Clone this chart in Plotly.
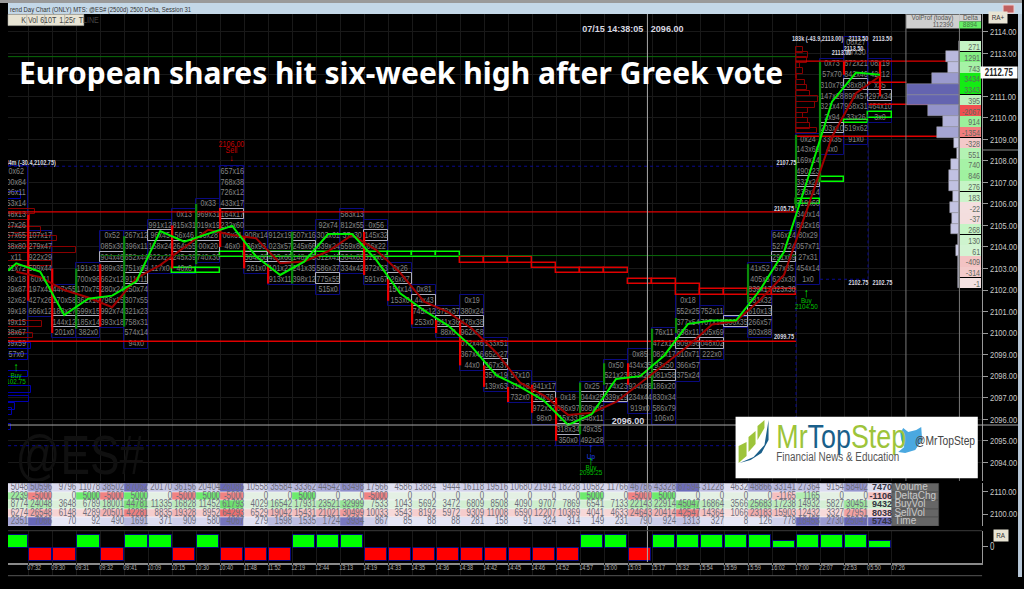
import plotly.graph_objects as go

# ---------- data ----------
time_labels = ["07:32","09:30","09:31","09:32","09:41","10:09","10:15","10:30","10:40","11:48","11:52","12:19","12:44","13:13","14:19","14:33","14:35","14:36","14:38","14:42","14:45","14:46","14:52","14:57","15:00","15:03","15:17","15:32","15:54","15:59","15:59","16:02","17:00","22:07","22:53","05:50","07:26"]
row_names = ["Volume","DeltaChg","BuyVol","SellVol","Time"]
volume = [5048,50596,9796,11078,38502,87062,20170,36156,20404,126086,10558,35584,33362,44542,63498,17566,4586,13884,9444,16118,19516,10680,21914,18238,10582,11766,46786,43328,87594,31228,4632,48866,33141,27364,9154,58402,7470]
delta_chg = [2239,-5000,0,5000,-5000,5000,0,-5000,5000,-5000,0,0,5000,0,0,-5000,0,0,0,0,0,0,0,0,5000,0,-5000,5000,0,0,0,0,-1165,1165,0,0,-1106]
buy_vol = [8774,24048,3648,6789,18001,44781,11335,16828,11452,61793,4029,16542,17931,23521,32999,7533,1043,5692,3472,6809,8508,4090,9707,7869,6541,7133,22143,22914,45047,16864,3566,25683,17238,14932,5827,30451,9432]
sell_vol = [6274,26548,6148,4289,20501,42281,8835,19328,8952,64293,6529,19042,15431,21021,30499,10033,3543,8192,5972,9309,11008,6590,12207,10369,4041,4633,24643,20414,42547,14364,1066,23183,15903,12432,3327,27951,8038]
time_row = [2351,7066,70,92,490,1691,371,909,580,4067,279,1598,1535,1724,3934,867,85,88,88,281,158,91,324,314,149,231,790,924,1313,327,8,126,778,18453,2730,25047,5743]
trend_bars = [5000,-5000,-5000,5000,-5000,5000,5000,-5000,5000,-5000,-5000,-5000,5000,5000,5000,-5000,-5000,-5000,-5000,-5000,-5000,-5000,-5000,-5000,5000,5000,-5000,5000,5000,5000,5000,5000,2700,5000,5000,5000,2700]

fast_x0 = -0.83
fast_y0 = 2102.9
fast_ma = [2103.24,2102.85,2100.84,2101.6,2101.74,2102.39,2104.74,2104.25,2104.63,2104.98,2103.55,2102.7,2103.32,2104.6,2104.6,2103.4,2101.85,2101.05,2100.35,2099.35,2098.05,2097.5,2096.86,2095.73,2096.25,2097.87,2098.0,2098.95,2100.43,2100.58,2100.58,2102.0,2103.78,2107.2,2110.75,2112.1,2112.0]
slow_ma = [2102.85,2102.6,2102.0,2101.65,2101.2,2102.55,2103.16,2104.0,2104.8,2104.56,2104.4,2103.24,2103.32,2103.8,2104.56,2103.86,2102.8,2101.46,2100.97,2100.2,2099.1,2097.7,2097.1,2096.2,2096.3,2096.8,2097.67,2098.57,2099.4,2100.4,2100.56,2101.54,2102.7,2105.87,2109.12,2111.14,2111.94]

fp_top = [2107.5,2104.5,2102,2103,2104.5,2104.5,2105,2105.5,2106,2107.5,2104.5,2104.5,2104.5,2105,2105.5,2105,2103,2102,2101,2101.5,2099.5,2098,2097.5,2097,2097.5,2098.5,2099,2100,2101.5,2101,2100.5,2103,2104.5,2109,2112.5,2113.5,2112.5]
fp_labels = [
 ["0x62","00x84","96x11","53x14","48x13","27x26","57x65","38x80","x11","21x72","36x18","29x87","32x62","39x18","49x15","38x67","39x59","57x0"],
 ["107x17","279x47","922x29","599x44","60x41","197x41","427x26","666x12"],
 ["447x55","170x58","188x27","144x12","201x0"],
 ["191x31","700x96","170x75","362x19","599x15","185x14","382x0"],
 ["0x52","085x30","904x46","989x35","662x12","280x24","796x15","992x74","393x18"],
 ["267x12","396x11","652x44","751x69","911x11","250x74","307x55","321x23","758x31","574x14","94x0"],
 ["991x12","96x45","158x24","822x21","117x0"],
 ["0x13","815x31","56x46","264x55","245x39","40x0"],
 ["0x33","969x31","019x19","36x28","00x20","740x30"],
 ["657x16","768x38","726x12","433x17","164x17","232x60","06x31","46x0"],
 ["908x14","36x93","564x68","261x0"],
 ["912x19","023x57","403x66","101x27","913x11"],
 ["507x16","245x66","148x55","241x35","398x12"],
 ["92x74","303x61","839x24","312x41","586x37","775x55","515x0"],
 ["583x13","812x55","37x30","559x86","364x83","334x42"],
 ["0x56","145x32","06x22","519x60","972x33","591x67"],
 ["0x26","26x87","154x14","153x0"],
 ["0x81","44x43","745x12","253x0"],
 ["372x37","511x36","88x0"],
 ["0x19","380x24","478x38","962x58","072x46","367x46","44x0"],
 ["133x51","652x27","367x37","357x19","139x63"],
 ["57x10","31x18","732x0"],
 ["941x17","20x76","972x37","98x0"],
 ["0x18","086x97","15x33","318x34","350x0"],
 ["0x25","044x25","608x36","548x11","49x35","492x28"],
 ["0x50","521x23","774x23","339x19"],
 ["0x85","434x35","833x26","924x88","234x44","919x0"],
 ["76x11","472x11","082x17","93x50","081x58","186x20","830x34","586x79","106x0"],
 ["0x18","552x25","377x54","698x11","909x96","010x71","366x57","375x24"],
 ["752x11","707x18","105x69","048x02","222x0"],
 ["566x35"],
 ["41x52","405x5","839x17","881x32","610x13","266x57","803x88"],
 ["646x24","527x24","291x69","67x35","623x30","023x30"],
 ["0x24","143x69","169x14","490x23","332x21","238x14","719x60","340x14","882x16","80x29","057x71","27x31","454x14","1x0"],
 ["0x73","57x70","310x79","147x28","321x47","2x94","203x10","33x35","4x0"],
 ["08x27","87x30","672x21","842x46","38x80","899x57","958x31","33x26","519x62","91x0"],
 ["08x19","42x12","x35","297x34","464x10","3x0"],
]

wick_tick = [0,1,2,3,4,6,7,8,9,10,11,14,15,16,17,18,19,20,21,22,23,24,25,26,27,30,32,33,34,35.5]
wick_low = [2101.5,2100,2100.2,2100.3,2100.3,2103,2103.2,2104,2103,2102.3,2102.3,2102.7,2101.5,2100.4,2100,2098.5,2097.5,2096.8,2096.3,2095,2095.3,2097.6,2097.6,2097.4,2100,2101.4,2105.8,2107,2112,2111]
wick_high = [2105.5,2103,2103,2103.2,2104.5,2105,2106,2105.8,2104.5,2103.2,2104.7,2104.7,2102.5,2101.5,2100.6,2100.5,2098.5,2097.5,2097.6,2097,2097.7,2098.6,2098.6,2100.2,2100.7,2103.2,2109.2,2112.6,2112.6,2112.6]
wick_color = ["r","r","g","r","g","r","g","r","r","r","g","r","r","r","r","r","r","r","r","r","g","g","r","g","g","g","g","g","r","r"]

step_col = [7,8,9,10,11,12,13,14,15,16,17,18,19,20,21,22,23,24,25,26,27,28,29,30,31,32,33,34,35,36]
step_low = [2102.78,2102.78,2103.52,2103.52,2103.52,2103.52,2103.52,2103.52,2103.52,2103.52,2103.52,2103.52,2103.27,2103.27,2103.27,2103.0,2102.78,2102.78,2102.78,2102.28,2102.28,2101.77,2101.77,2101.77,2101.77,2101.77,2106.0,2107.0,2109.75,2110.0]
step_high = [2103.0,2103.0,2103.75,2103.75,2103.75,2103.75,2103.75,2103.75,2103.75,2103.75,2103.75,2103.75,2103.52,2103.52,2103.52,2103.27,2103.0,2103.0,2103.0,2102.53,2102.53,2102.28,2102.04,2102.04,2102.04,2102.04,2106.25,2107.25,2109.9,2110.25]
step_color = ["#00ff00"]*12 + ["#e00000"]*14 + ["#00ff00"]*4

poc_col = [2,3,4,5,6,7,8,9,10,11,12,13,14,15,16,17,18,19,20,22,23,24,25,27,28,29,30,31,32,33,34,35,36]
poc_price = [2100.5,2100.5,2103.5,2102.5,2104.5,2104,2104,2105.5,2103.5,2103.5,2104,2102.5,2103.5,2104.5,2102.5,2101.5,2100.5,2100.5,2098.5,2097,2095.5,2097,2097,2098,2099.5,2099.5,2100.5,2101,2103.5,2107,2109.5,2111.5,2111]

hl_price = [2105.63,2099.62,2112.63,2111.65,2110.63,2109.14]
hl_x0 = [-0.84,-0.84,32,35,35,32]
hl_x1 = [32,32,38.3,36.6,37.5,37.87]
dg_price = [2112.84,2103.6]
dg_x0 = [-0.84,3]
dg_x1 = [32,32]
dot_price = [2107.75,2094.77,2102.5]
dot_x0 = [-0.84,-0.84,33]
dot_x1 = [31.5,31.5,35]

left_red_price = [2105.64,2105.38,2104.79,2104.4,2103.86,2103.24,2100.43,2099.88]
left_red_end = [0.28,0.07,0.55,1.18,2.0,0.97,0.58,0.2]
left_navy_price = [2106.4,2099.39,2098.89,2098.1,2097.37,2096.94,2096.6,2096.35,2095.63]
left_navy_end = [-0.3,0.11,0.0,0.0,0.1,0.04,-0.55,-0.69,-0.72]
right_prof_price = [2113.15,2112.92,2112.68,2112.42,2112.17,2111.91,2111.65,2111.41,2111.14,2110.87,2110.59,2110.33,2110.1,2109.87,2109.62,2109.4]
right_prof_len = [.31,.51,.47,.17,.31,.03,.38,.44,.58,.93,.79,.51,.31,.51,.58,.86]

profile_price = [2113.33,2112.83,2112.33,2111.83,2111.33,2110.83,2110.33,2109.83,2109.33,2108.83,2108.33,2107.83,2107.33,2106.83,2106.33,2105.83,2105.33,2104.83,2104.33,2103.83,2103.33,2102.83,2102.33]
profile_delta = [271,1291,743,3434,3343,395,-2067,914,-1354,-328,551,740,846,276,183,-22,-37,268,130,61,-409,-314,-1]
profile_vol = [0,5000,4125,10375,19750,19750,11625,6250,8500,2000,750,3000,3750,3750,2375,3375,2625,2875,375,1250,375,375,375]

small_x = [0.1,31.6,31.5,31.5,34.6,35.6,35.6,34.6,34.4,33.9,32.9]
small_p = [2107.9,2107.9,2105.75,2099.8,2102.3,2102.3,2113.66,2113.66,2113.18,2113.0,2113.66]
small_txt = ["84m (-30.4,2102.75)","2107.75","2105.75","2099.75","2102.75","2102.75","2113.50","2113.50","2113.50","2113.00","183k (-43.9,2113.00)"]

sig_x = [8.47,8.47,8.47,-0.51,-0.51,-0.51,32.43,32.43,32.43,23.45,23.45,23.45,23.45,23.45]
sig_p = [2108.74,2108.46,2108.12,2098.38,2098.0,2097.73,2101.82,2101.5,2101.2,2094.62,2094.25,2094.04,2093.73,2093.5]
sig_txt = ["2106.00","Sell","↓","↑","Buy","102.75","↑","Buy","2104.50","↑","Up","↑","Buy","2095.25"]
sig_col = ["#c00000","#c00000","#e00000","#00ff00","#00c000","#00c000","#00ff00","#00c000","#00c000","#2040ff","#2040ff","#00ff00","#00c000","#00c000"]

price_ticks = [2114,2113,2112,2111,2110,2109,2108,2107,2106,2105,2104,2103,2102,2101,2100,2099,2098,2097,2096,2095,2094]

# ---------- helpers ----------
W, H = 1024, 589
NARROW = "Liberation Sans Narrow, Liberation Sans, sans-serif"
SANS = "Liberation Sans, sans-serif"
def tick_of_px(px): return (px - 28.3) / 24.04
def yp(px): return 1 - px / H
def xp(px): return px / W
def mix(a, b, t):
    t = max(0, min(1, t))
    return "rgb(%d,%d,%d)" % tuple(a[i] + (b[i] - a[i]) * t for i in range(3))
PURP = ((232,232,246),(104,104,184))
GRN = ((228,242,228),(110,222,110))
RED = ((248,226,226),(236,110,110))
x_range = [tick_of_px(8), tick_of_px(984)]
ticks = list(range(37))

fig = go.Figure()
def bars(**k):
    fig.add_trace(go.Bar(showlegend=False, hoverinfo="skip", **k))
def scat(**k):
    fig.add_trace(go.Scatter(showlegend=False, hoverinfo="skip", **k))

scat(x=[tick_of_px(80)], y=[2094.1], text=["@ES#"], mode="text", textposition="middle center",
     textfont=dict(family=NARROW, size=56, color="#101010"))

for c, (top, labs) in enumerate(zip(fp_top, fp_labels)):
    n = len(labs)
    bars(x=[c - 0.5], y=[n * 0.5], base=[top + 0.25 - n * 0.5], width=[1],
         marker=dict(color="rgba(0,0,0,0)", line=dict(color="#0a0a80", width=1)))
bars(orientation="h", y=left_red_price, x=[e + 0.84 for e in left_red_end], base=[-0.84] * len(left_red_end), width=0.26,
     marker=dict(color="rgba(0,0,0,0)", line=dict(color="#8a0000", width=1)))
bars(orientation="h", y=left_navy_price, x=[e + 0.84 for e in left_navy_end], base=[-0.84] * len(left_navy_end), width=0.3,
     marker=dict(color="rgba(0,0,0,0)", line=dict(color="#0000b0", width=1)))
bars(orientation="h", y=right_prof_price, x=right_prof_len, base=[32] * len(right_prof_len), width=0.25,
     marker=dict(color="rgba(0,0,0,0)", line=dict(color="#8a0000", width=1)))
bars(x=[c - 0.5 for c in step_col], y=[h - l for h, l in zip(step_high, step_low)], base=step_low, width=1,
     marker=dict(color="rgba(0,0,0,0)", line=dict(color=step_color, width=1.4)))
bars(x=[c - 0.5 for c in poc_col], y=[0.5] * len(poc_col), base=[p - 0.22 for p in poc_price], width=1,
     marker=dict(color="rgba(0,0,0,0)", line=dict(color="#b0b0c0", width=1)))

tx, ty, tt = [], [], []
for c, (top, labs) in enumerate(zip(fp_top, fp_labels)):
    for i, s in enumerate(labs):
        tx.append(c - 0.5); ty.append(top - 0.5 * i); tt.append(s)
scat(x=tx, y=ty, text=tt, mode="text", textposition="middle center",
     textfont=dict(family=NARROW, size=9, color="#848484"))

def hlines(ps, a, b, color, width, dash="solid"):
    xs, ys = [], []
    for p, u, v in zip(ps, a, b):
        xs += [u, v, None]; ys += [p, p, None]
    scat(x=xs, y=ys, mode="lines", line=dict(color=color, width=width, dash=dash))
hlines(dg_price, dg_x0, dg_x1, "#0a6a0a", 1)
hlines(dot_price, dot_x0, dot_x1, "#0a0a90", 1, "dot")
hlines(hl_price, hl_x0, hl_x1, "#e00000", 1.4)
scat(x=[35, 35, None, 32, 32], y=[2113.5, 2102.5, None, 2102, 2094.8], mode="lines",
     line=dict(color="#0a0a90", width=1, dash="dot"))

for key, col in (("r", "#f00000"), ("g", "#0a8a0a")):
    xs, ys = [], []
    for t, lo, hi, w in zip(wick_tick, wick_low, wick_high, wick_color):
        if w == key:
            xs += [t, t, None]; ys += [lo, hi, None]
    scat(x=xs, y=ys, mode="lines", line=dict(color=col, width=2.2))

col_centres = [c - 0.5 for c in range(37)]
scat(x=col_centres, y=slow_ma, mode="lines", line=dict(color="#a00000", width=2))
scat(x=[fast_x0] + col_centres, y=[fast_y0] + fast_ma, mode="lines", line=dict(color="#00f000", width=2))

scat(x=small_x, y=small_p, text=["<b>%s</b>" % s for s in small_txt], mode="text", textposition="middle center",
     textfont=dict(family=NARROW, size=7, color="#d8d8e0"))
scat(x=sig_x, y=sig_p, text=sig_txt, mode="text", textposition="middle center",
     textfont=dict(family=NARROW, size=[9, 9, 9, 13, 8, 8, 13, 8, 8, 13, 8, 13, 8, 8], color=sig_col))
scat(x=[25.2, 25.0], y=[2114.08, 2095.87], text=["<b>07/15 14:38:05   2096.00</b>", "<b>2096.00</b>"], mode="text",
     textfont=dict(family=SANS, size=[9, 9], color="#d8d8e0"))

vol_colors = [mix((215,215,238), (100,100,176), v / 19750) for v in profile_vol]
bars(orientation="h", y=profile_price, x=profile_vol, width=0.5, xaxis="x3", yaxis="y",
     marker=dict(color=vol_colors, line=dict(color="#a0a0a8", width=0.5)))
def delta_color(d):
    if d >= 0:
        return mix((215,245,215), (20,235,20), d / 3000)
    return mix((244,225,225), (240,80,80), -d / 2000)
bars(orientation="h", y=profile_price, x=[tick_of_px(983) - tick_of_px(961)] * len(profile_price),
     base=[tick_of_px(961)] * len(profile_price), width=0.49,
     marker=dict(color=[delta_color(d) for d in profile_delta], line=dict(width=0)))
scat(x=[tick_of_px(982)] * len(profile_price), y=[p - 0.08 for p in profile_price], text=[str(d) for d in profile_delta],
     mode="text", textposition="middle left", textfont=dict(family=NARROW, size=9, color="#5f6a5f"))

table_rows = [volume, delta_chg, buy_vol, sell_vol, time_row]
def cell_color(r, v):
    if r == 0: return mix(*PURP, v / 90000)
    if r == 1:
        if v == 0: return "rgb(228,240,228)"
        if v > 0: return mix((200,240,200), (110,235,110), v / 5000)
        return mix((248,210,210), (240,130,130), -v / 5000)
    if r == 2: return mix(*GRN, v / 50000)
    if r == 3: return mix(*RED, v / 50000)
    return mix(*PURP, v / 4500)
for r, vals in enumerate(table_rows):
    xs = [k - 0.5 for k in ticks]
    bars(x=xs, y=[1] * 37, base=[4 - r] * 37, width=[1] * 37, xaxis="x", yaxis="y2",
         marker=dict(color=[cell_color(r, v) for v in vals], line=dict(color="#f4f4fa", width=0.5)))
    scat(x=ticks[:-1], y=[4.47 - r] * 36, text=[str(v) for v in vals[:-1]], xaxis="x", yaxis="y2", mode="text",
         textposition="middle left", textfont=dict(family=NARROW, size=10, color="#6e6e7c"))
    scat(x=[ticks[-1]], y=[4.47 - r], text=["<b>%s</b>" % vals[-1]], xaxis="x", yaxis="y2", mode="text",
         textposition="middle left", textfont=dict(family=SANS, size=9, color="#333340"))
    bars(x=[36.97], y=[1], base=[4 - r], width=[1.94], xaxis="x", yaxis="y2",
         marker=dict(color="#666666", line=dict(color="#444444", width=0.5)))
    scat(x=[36.1], y=[4.47 - r], text=[row_names[r]], xaxis="x", yaxis="y2", mode="text",
         textposition="middle right", textfont=dict(family=SANS, size=10, color="#c8c8c8"))

bars(x=[k - 0.5 for k in ticks], y=trend_bars, width=0.94, xaxis="x", yaxis="y3",
     marker=dict(color=["#00ff00" if v > 0 else "#ff0000" for v in trend_bars], line=dict(color="#0a0a80", width=1)))

scat(x=[0], y=[2100], mode="markers", marker=dict(opacity=0), xaxis="x", yaxis="y4")
scat(x=[t + 0.25 for t in ticks], y=[0.6] * 37, text=time_labels, xaxis="x", yaxis="y5", mode="text",
     textposition="middle center", textfont=dict(family=NARROW, size=7, color="#b0b0b0"))

shapes = [
    dict(type="rect", xref="paper", yref="paper", x0=0, x1=1, y0=yp(3), y1=1, fillcolor="#9a9a9a", line_width=0, layer="below"),
    dict(type="rect", xref="paper", yref="paper", x0=xp(8), x1=1, y0=yp(14), y1=yp(3), fillcolor="#c4d8e8", line_width=0, layer="below"),
    dict(type="rect", xref="paper", yref="paper", x0=xp(1005), x1=xp(1016), y0=yp(13), y1=yp(5), fillcolor="#c06060", line=dict(color="#f0d0d0", width=1)),
    dict(type="rect", xref="paper", yref="paper", x0=xp(1020), x1=1, y0=yp(577), y1=yp(14), fillcolor="#b8c8d8", line_width=0),
    dict(type="line", xref="paper", yref="y", x0=xp(8), x1=xp(1020), y0=2095.73, y1=2095.73, line=dict(color="#a8a8a8", width=1)),
    dict(type="line", xref="x", yref="paper", x0=tick_of_px(648.7), x1=tick_of_px(648.7), y0=yp(562), y1=yp(14), line=dict(color="#a8a8a8", width=1)),
    dict(type="line", xref="paper", yref="paper", x0=xp(907.7), x1=xp(907.7), y0=yp(481), y1=yp(14), line=dict(color="#787878", width=1)),
    dict(type="line", xref="paper", yref="paper", x0=xp(961.3), x1=xp(961.3), y0=yp(481), y1=yp(14), line=dict(color="#787878", width=1)),
    dict(type="line", xref="paper", yref="paper", x0=xp(984), x1=xp(1020), y0=yp(150), y1=yp(150), line=dict(color="#888888", width=1)),
    dict(type="line", xref="paper", yref="paper", x0=xp(8), x1=xp(984), y0=yp(530.7), y1=yp(530.7), line=dict(color="#3a3a3a", width=1)),
    dict(type="line", xref="paper", yref="paper", x0=xp(8), x1=xp(984), y0=yp(575.7), y1=yp(575.7), line=dict(color="#555555", width=1)),
    dict(type="rect", xref="paper", yref="paper", x0=xp(908), x1=xp(961), y0=yp(28.5), y1=yp(14.5), fillcolor="#cfcfcf", line_width=0),
    dict(type="rect", xref="paper", yref="paper", x0=xp(961), x1=xp(983), y0=yp(21.5), y1=yp(14.5), fillcolor="#cfcfcf", line_width=0),
    dict(type="rect", xref="paper", yref="paper", x0=xp(961), x1=xp(983), y0=yp(28.5), y1=yp(21.5), fillcolor="#66ee66", line_width=0),
    dict(type="rect", xref="paper", yref="paper", x0=xp(737), x1=xp(979.7), y0=yp(478.3), y1=yp(416.7), fillcolor="#ffffff", line_width=0, layer="above"),
]
def pth(pts, color):
    d = "M" + " L".join("%.4f,%.4f" % (xp(a), yp(b)) for a, b in pts) + " Z"
    return dict(type="path", xref="paper", yref="paper", path=d, fillcolor=color, line_width=0, layer="above")
shapes += [
    pth([(740,463),(740,446),(748,442),(748,456)], "#9dc43a"),
    pth([(750,452),(750,437),(757,431),(757,444)], "#9dc43a"),
    pth([(759,440),(759,426),(766,420),(766,428)], "#9dc43a"),
    pth([(741,463),(755,457),(766,445),(770,420),(770,440),(763,453),(752,460)], "#1a5f8a"),
    pth([(905,428),(910,432),(918,430),(923,427),(924,440),(917,450),(907,453),(900,452),(906,447),(903,440),(902,433)], "#4aa8e0"),
    pth([(984,72),(990,68),(990,76)], "#ff0000"),
]

btn = [("K Vol",17.5,8,27),("610T",36,27,45),("1.25r",55,45,65),("TLINE",74.5,65,84)]
ann = []
for s, cx, a, b in btn:
    shapes.append(dict(type="rect", xref="paper", yref="paper", x0=xp(a), x1=xp(b), y0=yp(25.6), y1=yp(14.3),
                       fillcolor="#e8e4d4", line=dict(color="#b0b0a8", width=0.5)))
    ann.append(dict(x=xp(cx), y=yp(20), text=s, font=dict(family=NARROW, size=9, color="#444444")))
ann += [
    dict(x=xp(-16), y=yp(9), xanchor="left", text="rend Day Chart (ONLY) MTS: @ES# (2500d) 2500 Delta, Session 31", font=dict(family=NARROW, size=7.5, color="#333333")),
    dict(x=xp(17), y=yp(73), xanchor="left", text="<b>European shares hit six-week high after Greek vote</b>", font=dict(family="Noto Sans, sans-serif", size=30, color="#ffffff")),
    dict(x=xp(758), y=yp(436), xanchor="left", text="<span style='color:#9dc43a'>Mr</span><span style='color:#1a5f8a'>Top</span><span style='color:#9dc43a'>Step</span>", font=dict(family=NARROW, size=34)),
    dict(x=xp(759), y=yp(457), xanchor="left", text="Financial News &amp; Education", font=dict(family=NARROW, size=12.5, color="#555555")),
    dict(x=xp(907), y=yp(440), xanchor="left", text="@MrTopStep", font=dict(family=NARROW, size=13, color="#444444")),
    dict(x=xp(906), y=yp(18), xanchor="left", text="VolProf (today)", font=dict(family=NARROW, size=8, color="#555555")),
    dict(x=xp(961), y=yp(25), xanchor="right", text="112390", font=dict(family=NARROW, size=8, color="#555555")),
    dict(x=xp(961), y=yp(18), xanchor="left", text="Delta", font=dict(family=NARROW, size=8, color="#555555")),
    dict(x=xp(983), y=yp(25), xanchor="right", text="8894", font=dict(family=NARROW, size=8, color="#447744")),
    dict(x=xp(1010), y=yp(18), text="RA+", bgcolor="#e8e4d4", font=dict(family=NARROW, size=8, color="#333333")),
    dict(x=xp(1011), y=yp(535), text="RA", bgcolor="#e8e4d4", font=dict(family=NARROW, size=8, color="#333333")),
    dict(x=xp(1020), y=yp(72), xanchor="right", text="<b>2112.75</b>", bgcolor="#ffffff", font=dict(family=NARROW, size=10, color="#222222"), borderpad=0),
]
for a in ann:
    a.update(xref="paper", yref="paper", showarrow=False, yanchor="middle")

grid = "#191919"
fig.update_layout(
    width=W, height=H, margin=dict(l=0, r=0, t=0, b=0), paper_bgcolor="#000000", plot_bgcolor="#000000",
    barmode="overlay", showlegend=False, shapes=shapes, annotations=ann, bargap=0,
    xaxis=dict(domain=[xp(8), xp(984)], range=x_range, tickmode="array", tickvals=ticks, showticklabels=False,
               ticks="outside", ticklen=4, tickcolor="#999999", gridcolor=grid, showline=True, linecolor="#8a8a8a", linewidth=2,
               anchor="y3", zeroline=False),
    xaxis3=dict(domain=[xp(8), xp(984)], overlaying="x", range=[357375, -8625], visible=False, anchor="y"),
    yaxis=dict(domain=[yp(481), yp(14)], range=[2093.13, 2114.82], anchor="x", side="right", tickmode="array",
               tickvals=price_ticks, ticktext=["%.2f" % p for p in price_ticks], gridcolor=grid, zeroline=False,
               ticks="outside", ticklen=5, tickcolor="#999999", showline=True, linecolor="#999999",
               tickfont=dict(family=NARROW, size=9.5, color="#c8c8c8")),
    yaxis2=dict(domain=[yp(526), yp(483.3)], range=[0, 5], visible=False, anchor="x"),
    yaxis3=dict(domain=[yp(563), yp(531)], range=[-5775, 6545], anchor="x", side="right", tickmode="array", tickvals=[770], ticktext=["0"],
                showgrid=False, zeroline=False, ticks="outside", ticklen=5, tickcolor="#999999", showline=True, linecolor="#999999",
                tickfont=dict(family=NARROW, size=10, color="#c8c8c8")),
    yaxis4=dict(overlaying="y2", range=[2094.73, 2113.52], anchor="x", side="right", tickmode="array", tickvals=[2110, 2100],
                ticktext=["2110.00", "2100.00"], showgrid=False, zeroline=False, ticks="outside", ticklen=5, tickcolor="#999999",
                showline=True, linecolor="#999999", tickfont=dict(family=NARROW, size=9.5, color="#c8c8c8")),
    yaxis5=dict(domain=[yp(576), yp(563)], range=[0, 1], visible=False, anchor="x"),
)
post = """
document.body.style.margin='0';
document.documentElement.style.overflow='hidden';
setTimeout(function(){
 document.querySelectorAll('svg text').forEach(function(t){
   var fam=t.style.fontFamily||'';
   if(fam.indexOf('Narrow')>=0){
     var w=t.getComputedTextLength();
     if(w>0){t.setAttribute('textLength',(w*0.79).toFixed(2));t.setAttribute('lengthAdjust','spacingAndGlyphs');}
   }
 });
},50);
"""
fig.write_html("out.html", post_script=post, config=dict(displayModeBar=False))
